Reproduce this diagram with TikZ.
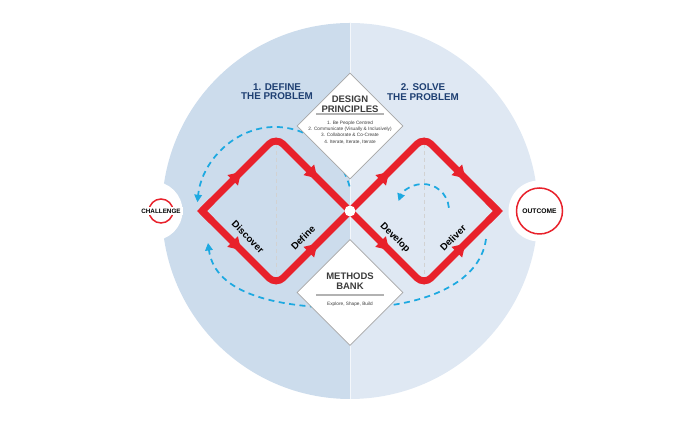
\documentclass[tikz,border=0pt]{standalone}
\usepackage{fontspec}
\setmainfont{Liberation Sans}
\usetikzlibrary{arrows.meta}
\usetikzlibrary{positioning}
\usetikzlibrary{shapes.geometric}
\usetikzlibrary{decorations.markings}
\definecolor{leftblue}{HTML}{CCDCEC}
\definecolor{rightblue}{HTML}{DFE8F3}
\definecolor{ddred}{HTML}{E8212B}
\definecolor{loopblue}{HTML}{1DA9E1}
\definecolor{navy}{HTML}{1E3F72}
\definecolor{boxtext}{HTML}{3C3C3C}
\begin{document}
\begin{tikzpicture}[x=0.02cm,y=0.02cm,
  redline/.style={ddred,line width=0.14cm,rounded corners=0.2cm,
    postaction={decorate},decoration={markings,
      mark=at position 0.27 with {\arrow{Triangle[length=0.24cm,width=0.3cm,line width=0pt]}},
      mark=at position 0.775 with {\arrow{Triangle[length=0.24cm,width=0.3cm,line width=0pt]}}}},
  loopline/.style={loopblue,line width=0.035cm,dash pattern=on 0.12cm off 0.09cm,
    -{Triangle[length=0.15cm,width=0.15cm]}},
  midline/.style={gray!35,line width=0.02cm,dash pattern=on 0.08cm off 0.06cm},
  infobox/.style={diamond,draw=gray!70,fill=white,line width=0.4pt,
    minimum width=2.12cm,minimum height=2.12cm,inner sep=0pt},
  boxtitle/.style={text=boxtext,align=center,font=\fontsize{5.4}{5.7}\selectfont\bfseries},
  boxsmall/.style={text=boxtext,align=center,font=\fontsize{2.7}{3.5}\selectfont},
  boxrule/.style={gray!60,line width=0.03cm},
  phase/.style={text=navy,align=center,font=\fontsize{5.6}{5.3}\selectfont\bfseries},
  stage/.style={font=\fontsize{5.5}{6}\selectfont\bfseries},
  enddisc/.style={circle,fill=white,inner sep=0pt},
  endring/.style={circle,draw=ddred,line width=0.03cm,inner sep=0pt}]
\useasboundingbox (0,0) rectangle (700,421);
\fill[rightblue] (350,398) arc[start angle=90,end angle=-90,radius=188] -- cycle;
\fill[leftblue] (350,22) arc[start angle=270,end angle=90,radius=188] -- cycle;
\draw[white,opacity=0.7,line width=0.02cm] (350,22) -- (350,398);

\node[enddisc,minimum size=1.18cm] (cdisc) at (153,210) {};
\node[enddisc,minimum size=1.22cm] (odisc) at (539,210) {};

\coordinate (L1) at (202,210);
\coordinate (T1) at (276,284);
\coordinate (B1) at (276,136);
\coordinate (C) at (350,210);
\coordinate (T2) at (424,284);
\coordinate (B2) at (424,136);
\coordinate (R2) at (498,210);

\draw[loopline] (275,210) ++(17:78 and 84) arc[start angle=17,end angle=174,x radius=78,y radius=84];
\draw[loopline] (486,182) .. controls (480,136) and (420,113) .. (350,113)
  .. controls (280,113) and (215,126) .. (208,178);

\node[infobox] (principles) at (350,295) {};
\node[infobox] (methods) at (350,128.5) {};

\node[phase] (define) at (277,329) {1. DEFINE\\THE PROBLEM};
\node[phase] (solve) at (423,329) {2. SOLVE\\THE PROBLEM};

\node[boxtitle] (dptitle) at (350,317) {DESIGN\\PRINCIPLES};
\draw[boxrule] (316,307) -- (384,307);
\node[boxsmall] (dplist) at (350,288.5) {1. Be People Centred\\2. Communicate (Visually \& Inclusively)\\3. Collaborate \& Co-Create\\4. Iterate, Iterate, Iterate};
\node[boxtitle] (mbtitle) at (350,139.5) {METHODS\\BANK};
\draw[boxrule] (316,126) -- (384,126);
\node[boxsmall] (mblist) at (350,116.5) {Explore, Shape, Build};

\draw[midline] (T1) -- (B1);
\draw[midline] (T2) -- (B2);
\draw[loopline] (423,211) ++(5:26) arc[start angle=5,end angle=160,radius=26];

\draw[redline] (L1) -- (T1) -- (C);
\draw[redline] (L1) -- (B1) -- (C);
\draw[redline] (C) -- (T2) -- (R2);
\draw[redline] (C) -- (B2) -- (R2);
\draw[ddred,line width=0.14cm] (L1) ++(10,10) -- (L1) -- ++(10,-10);
\draw[ddred,line width=0.14cm] (R2) ++(-10,10) -- (R2) -- ++(-10,-10);
\fill[white] (C) circle[radius=5.5];

\node[stage,rotate=-45] (discover) at (248,184) {Discover};
\node[stage,rotate=45] (definest) at (303,183) {Define};
\node[stage,rotate=-45] (develop) at (395,183) {Develop};
\node[stage,rotate=45] (deliver) at (453,183) {Deliver};

\node[endring,minimum size=0.48cm] (cring) at (161,210) {};
\node[fill=white,inner sep=1.2pt,font=\fontsize{3.6}{4}\selectfont\bfseries] (challenge) at (cring) {CHALLENGE};
\node[endring,minimum size=0.92cm,font=\fontsize{3.8}{4}\selectfont\bfseries] (outcome) at (539.5,210) {OUTCOME};
\end{tikzpicture}
\end{document}
